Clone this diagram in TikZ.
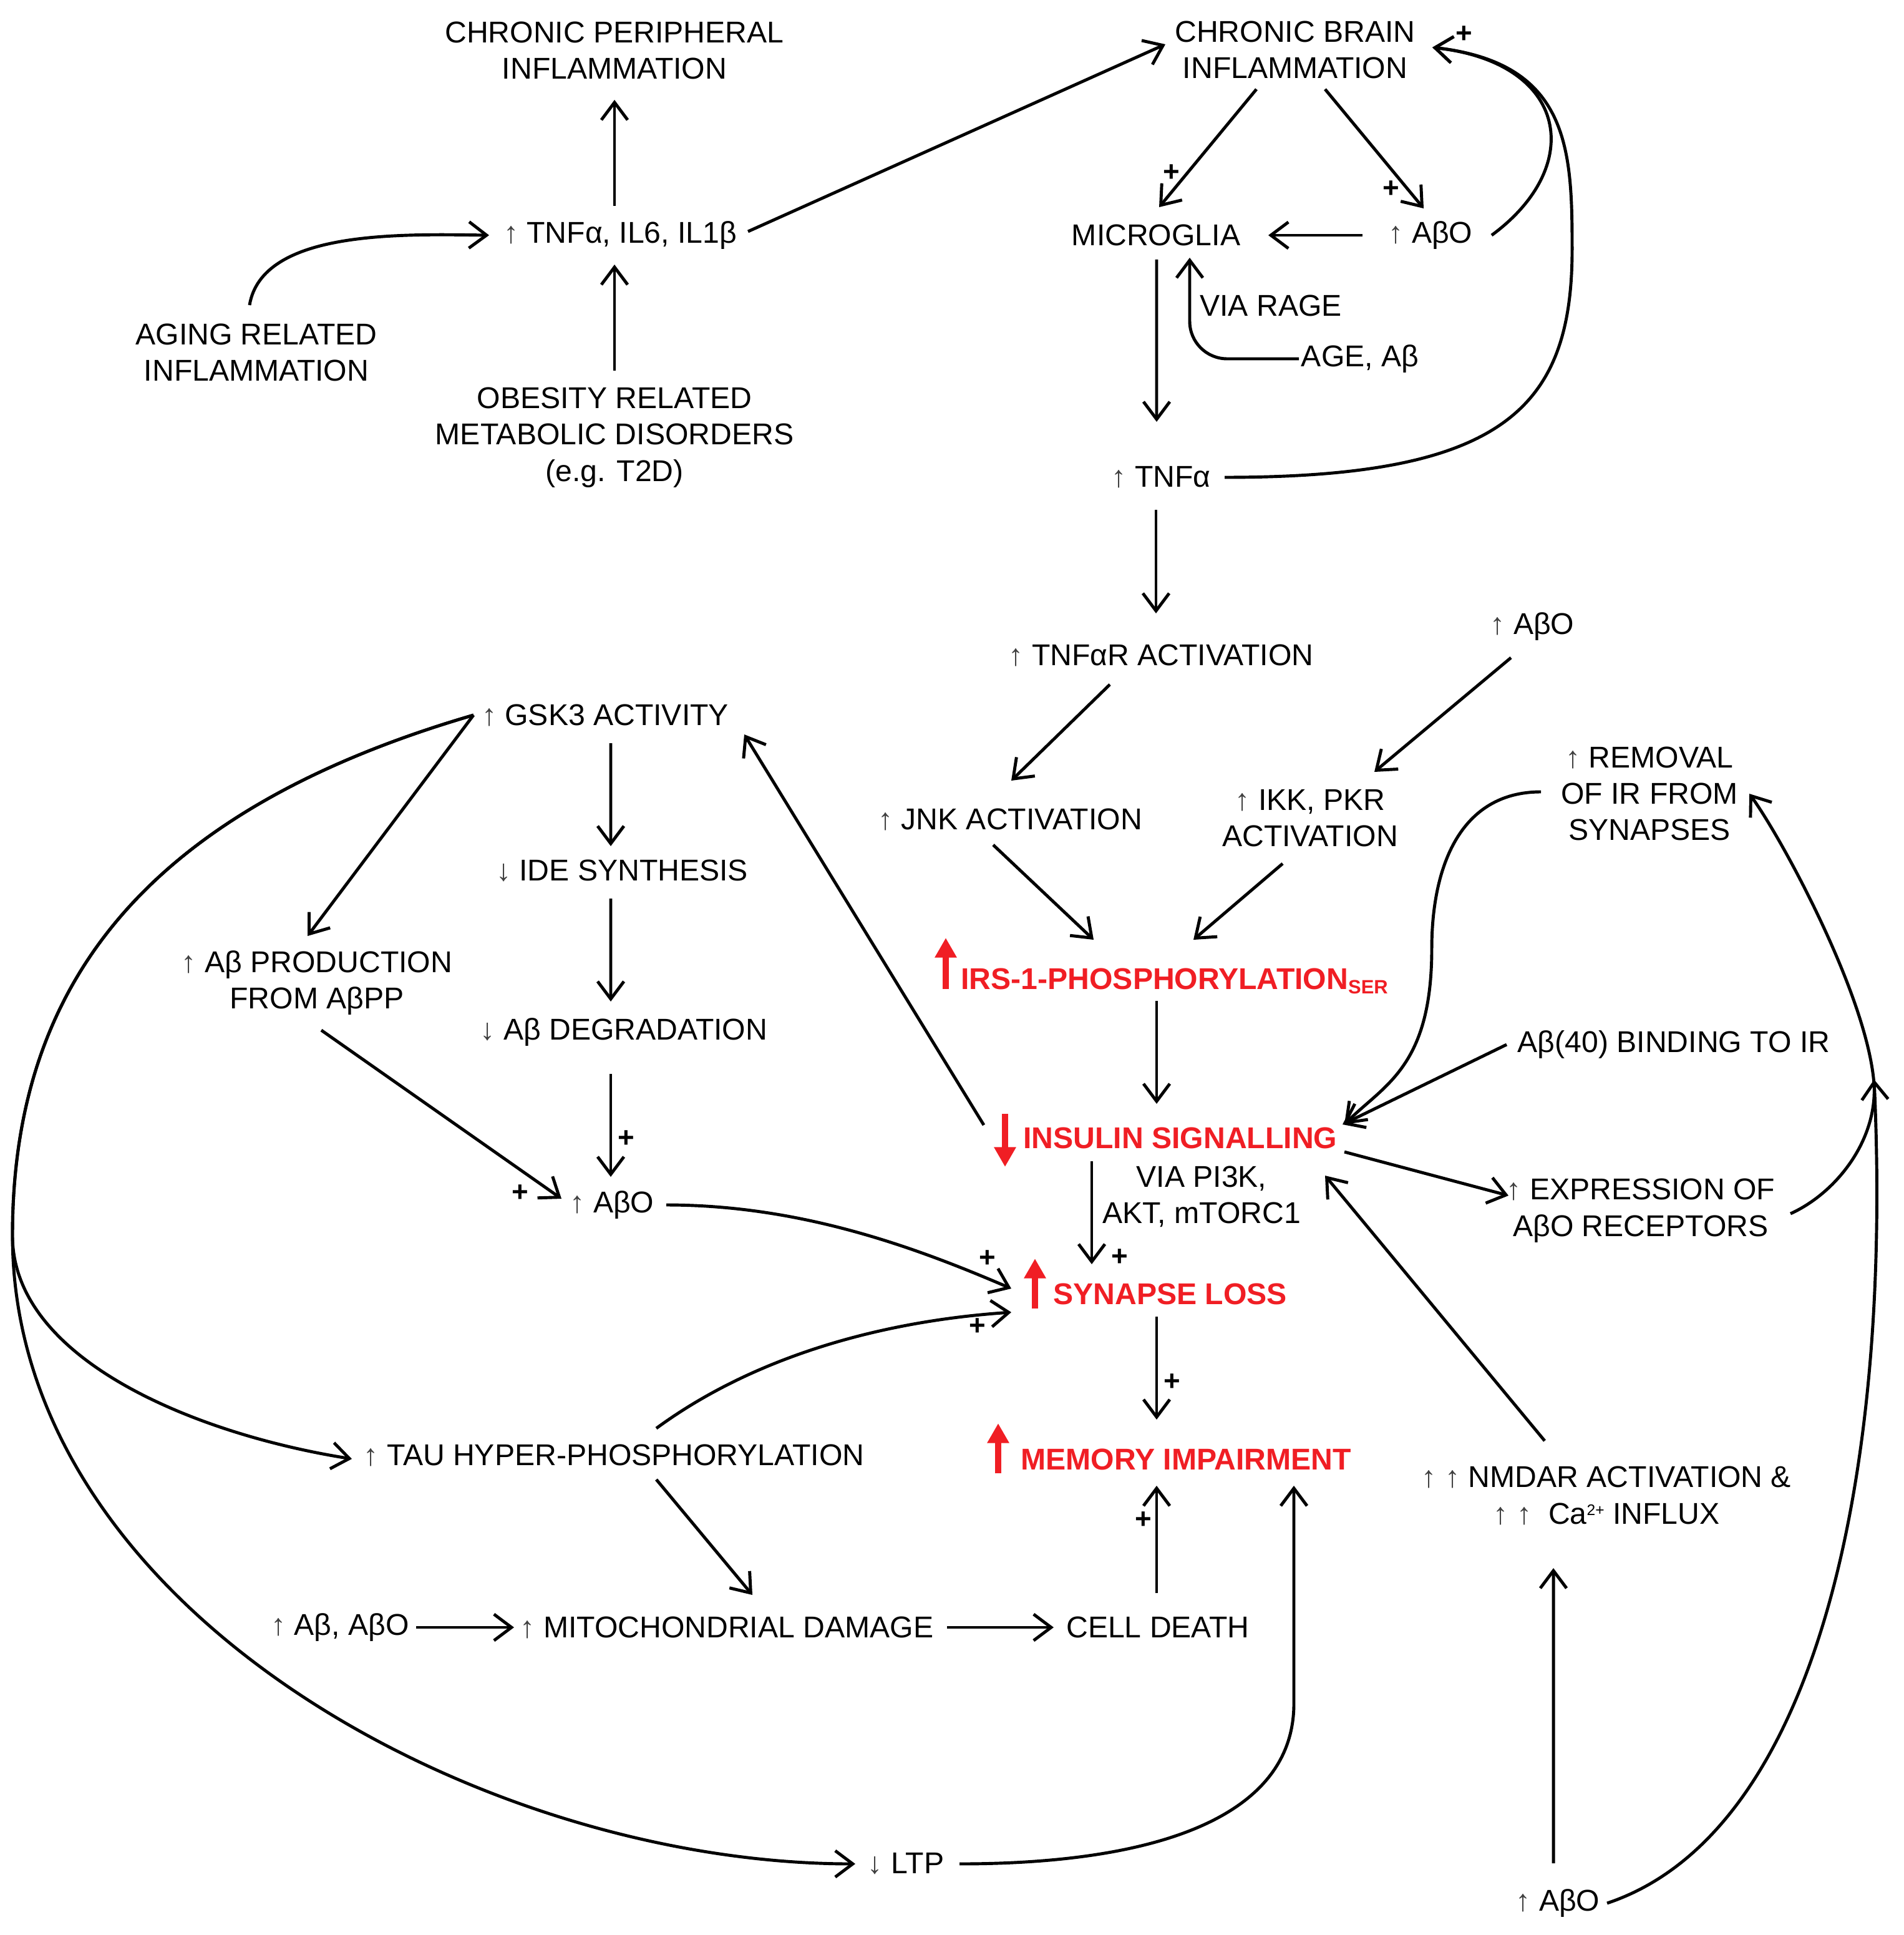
\documentclass[tikz,border=0pt]{standalone}
\usepackage{fontspec}
\setmainfont{Liberation Sans}
\usepackage{graphicx}
\usepackage{tikz}
\usetikzlibrary{arrows.meta}
\definecolor{sigred}{RGB}{240,30,36}
\newcommand{\basefont}{\fontsize{13.7pt}{16.6pt}\selectfont}
\newcommand{\upar}{\textcolor{black!75}{↑}}
\newcommand{\dnar}{\textcolor{black!75}{↓}}
\tikzset{every node/.style={align=center}, >= {Straight Barb[length=8pt,width=12pt]}, font=\basefont}

\begin{document}
\begin{tikzpicture}[line width=1.4pt,
    hot/.style={text=sigred, font=\basefont\bfseries, anchor=base west, inner sep=0pt},
    hotarrow/.style={draw=sigred, line width=2.6pt, -{Triangle[length=9pt,width=9.5pt]}},
    plussign/.style={font=\fontsize{13pt}{13pt}\selectfont\bfseries, inner sep=0pt}]
    \useasboundingbox (0,0) rectangle (30.51,-31.01);
    % peripheral side
    \node (cpi) at (9.85,-0.81) {CHRONIC PERIPHERAL\\INFLAMMATION};
    \node (tnfil) at (9.94,-3.77) {\upar{} TNFα, IL6, IL1β};
    \node (aging) at (4.11,-5.65) {AGING RELATED\\INFLAMMATION};
    \node (obes) at (9.85,-7.01) {OBESITY RELATED\\METABOLIC DISORDERS\\(e.g. T2D)};
    % brain side
    \node (cbi) at (20.76,-0.80) {CHRONIC BRAIN\\INFLAMMATION};
    \node (micro) at (18.53,-3.77) {MICROGLIA};
    \node (abo1) at (22.93,-3.77) {\upar{} AβO};
    \node (rage) at (20.37,-4.90) {VIA RAGE};
    \node (agea) at (21.80,-5.75) {AGE, Aβ};
    \node (tnf) at (18.61,-7.65) {\upar{} TNFα};
    \node (tnfr) at (18.61,-10.50) {\upar{} TNFαR ACTIVATION};
    \node (abo2) at (24.56,-10.04) {\upar{} AβO};
    \node (jnk) at (16.19,-13.13) {\upar{} JNK ACTIVATION};
    \node (ikk) at (21.00,-13.11) {\upar{} IKK, PKR\\ACTIVATION};
    \node (remov) at (26.44,-12.72) {\upar{} REMOVAL\\OF IR FROM\\SYNAPSES};
    \node (gsk) at (9.70,-11.46) {\upar{} GSK3 ACTIVITY};
    \node (ide) at (9.97,-13.95) {\dnar{} IDE SYNTHESIS};
    \node (abprod) at (5.08,-15.75) {\upar{} Aβ PRODUCTION\\FROM AβPP};
    \node (abdeg) at (10.00,-16.54) {\dnar{} Aβ DEGRADATION};
    \node[hot] (irs) at (15.38,-15.85) {IRS-1-PHOSPHORYLATION{\fontsize{8.8pt}{9pt}\selectfont\raisebox{-2pt}{SER}}};
    \node (ab40) at (26.83,-16.74) {Aβ(40) BINDING TO IR};
    \node[hot] (ins) at (16.38,-18.40) {INSULIN SIGNALLING};
    \node (pi3k) at (19.26,-19.18) {VIA PI3K,\\AKT, mTORC1};
    \node (abo3) at (9.81,-19.31) {\upar{} AβO};
    \node (expr) at (26.30,-19.40) {\upar{} EXPRESSION OF\\AβO RECEPTORS};
    \node[hot] (syn) at (16.86,-20.90) {SYNAPSE LOSS};
    \node (tau) at (9.84,-23.32) {\upar{} TAU HYPER-PHOSPHORYLATION};
    \node[hot] (mem) at (16.34,-23.55) {MEMORY IMPAIRMENT};
    \node (nmdar) at (25.75,-23.97) {\upar{} \upar{} NMDAR ACTIVATION \&\\\upar{} \upar{}\ \ Ca\raisebox{0.55ex}{\fontsize{7pt}{7pt}\selectfont 2+} INFLUX};
    \node (abab) at (5.45,-26.08) {\upar{} Aβ, AβO};
    \node (mito) at (11.65,-26.08) {\upar{} MITOCHONDRIAL DAMAGE};
    \node (cell) at (18.56,-26.08) {CELL DEATH};
    \node (ltp) at (14.52,-29.87) {\dnar{} LTP};
    \node (abo4) at (24.97,-30.50) {\upar{} AβO};
    % bends and junctions
    \coordinate (tnfbend) at (25.20,-4.0);
    \coordinate (ltpbend) at (20.74,-27.3);
    \coordinate (split) at (0.20,-19.8);
    \coordinate (remobend) at (22.95,-15.2);
    \coordinate (rjoin) at (30.04,-17.38);
    \coordinate (rtip) at (30.04,-17.30);
    % red markers
    \draw[hotarrow] ([xshift=-0.22cm]irs.base west) -- ++(0,0.82);
    \draw[hotarrow] ([shift={(-0.27,0.55)}]ins.base west) -- ++(0,-0.85);
    \draw[hotarrow] ([shift={(-0.27,-0.07)}]syn.base west) -- ++(0,0.80);
    \draw[hotarrow] ([shift={(-0.34,-0.06)}]mem.base west) -- ++(0,0.80);
    % connectors
    \draw[->] ([shift={(-0.09,0.47)}]tnfil.center) -- ([shift={(0,-0.79)}]cpi.center);
    \draw[->] ([shift={(0,1.07)}]obes.center) -- ([shift={(-0.09,-0.47)}]tnfil.center);
    \draw[->] ([shift={(-0.11,0.76)}]aging.center) .. controls +(0.2,1.2) and +(-1.44,0.02) .. ([shift={(-2.10,0)}]tnfil.center);
    \draw[->] ([shift={(2.05,0.06)}]tnfil.center) -- ([shift={(-2.08,0.09)}]cbi.center);
    \draw[->] ([shift={(-0.62,-0.63)}]cbi.center) -- ([shift={(0.05,0.45)}]micro.center);
    \draw[->] ([shift={(0.48,-0.63)}]cbi.center) -- ([shift={(-0.11,0.43)}]abo1.center);
    \draw[->] ([shift={(-1.09,0)}]abo1.center) -- ([shift={(1.80,0)}]micro.center);
    \draw[->] ([shift={(0.98,0)}]abo1.center) .. controls +(1.5,1.1) and +(2.2,-0.25) .. ([shift={(2.20,0.04)}]cbi.center);
    \draw[->] ([shift={(1.02,0)}]tnf.center) .. controls +(4.43,0) and +(0,-2.57) .. (tnfbend) .. controls +(0,1.6) and +(2.2,-0.25) .. ([shift={(2.20,0.04)}]cbi.center);
    \draw[->, rounded corners=0.6cm] ([shift={(-0.98,0)}]agea.center) -| ([shift={(0.54,-0.36)}]micro.center);
    \draw[->] ([shift={(0.01,-0.39)}]micro.center) -- ([shift={(-0.07,0.89)}]tnf.center);
    \draw[->] ([shift={(-0.08,-0.52)}]tnf.center) -- ([shift={(-0.08,0.67)}]tnfr.center);
    \draw[->] ([shift={(-0.82,-0.47)}]tnfr.center) -- ([shift={(0.02,0.62)}]jnk.center);
    \draw[->] ([shift={(-0.34,-0.50)}]abo2.center) -- ([shift={(1.03,0.74)}]ikk.center);
    \draw[->] ([shift={(-0.27,-0.41)}]jnk.center) -- ([shift={(2.15,0.79)}]irs.base west);
    \draw[->] ([shift={(-0.44,-0.73)}]ikk.center) -- ([shift={(3.75,0.79)}]irs.base west);
    \draw[->] ([shift={(3.16,-0.19)}]irs.base west) -- ([shift={(2.16,0.71)}]ins.base west);
    \draw[->] ([shift={(-0.61,0.37)}]ins.base west) -- ([shift={(2.23,-0.31)}]gsk.center);
    \draw[->] ([shift={(1.12,-0.21)}]ins.base west) -- ([shift={(0.64,0.64)}]syn.base west);
    \draw[->] ([shift={(1.68,-0.20)}]syn.base west) -- ([shift={(2.20,0.80)}]mem.base west);
    \draw[->] ([shift={(-0.02,0.55)}]cell.center) -- ([shift={(2.20,-0.26)}]mem.base west);
    \draw[->] ([shift={(0.86,0)}]ltp.center) .. controls +(3.2,0) and +(0,-1.8) .. (ltpbend) -- ([shift={(4.40,-0.26)}]mem.base west);
    \draw[->] ([shift={(0.68,-0.39)}]tau.center) -- ([shift={(0.41,0.52)}]mito.center);
    \draw[->] ([shift={(1.22,0)}]abab.center) -- ([shift={(-3.41,0)}]mito.center);
    \draw[->] ([shift={(3.53,0)}]mito.center) -- ([shift={(-1.67,0)}]cell.center);
    \draw[->] ([shift={(0.87,0)}]abo3.center) .. controls +(2.2,0) and +(-1.47,0.63) .. ([shift={(-0.65,0.25)}]syn.base west);
    \draw[->] ([shift={(0.68,0.43)}]tau.center) .. controls +(1.5,1.1) and +(-2.2,-0.15) .. ([shift={(-0.65,-0.13)}]syn.base west);
    \draw[->] ([shift={(-2.11,0)}]gsk.center) -- ([shift={(-0.15,0.75)}]abprod.center);
    \draw[->] ([shift={(0.07,-0.76)}]abprod.center) -- ([shift={(-0.81,0.10)}]abo3.center);
    \draw[->] ([shift={(0.09,-0.45)}]gsk.center) -- ([shift={(-0.18,0.39)}]ide.center);
    \draw[->] ([shift={(-0.18,-0.45)}]ide.center) -- ([shift={(-0.21,0.49)}]abdeg.center);
    \draw[->] ([shift={(-0.21,-0.67)}]abdeg.center) -- ([shift={(-0.02,0.45)}]abo3.center);
    \draw[->] ([shift={(-2.11,0)}]gsk.center) .. controls +(-5.28,-1.54) and +(0,4.0) .. (split) .. controls +(0,-2.0) and +(-2.47,0.39) .. ([shift={(-4.20,-0.06)}]tau.center);
    \draw[->] ([shift={(-2.11,0)}]gsk.center) .. controls +(-5.28,-1.54) and +(0,4.0) .. (split) .. controls +(0,-6.0) and +(-6.0,0) .. ([shift={(-0.81,0)}]ltp.center);
    \draw[->] ([shift={(-2.68,0)}]ab40.center) -- ([shift={(5.14,0.38)}]ins.base west);
    \draw[->] ([shift={(-1.74,0.03)}]remov.center) .. controls +(-1.3,0) and +(0,1.3) .. (remobend) .. controls +(0,-1.9) and +(0.64,0.64) .. ([shift={(5.17,0.38)}]ins.base west);
    \draw[->] ([shift={(5.17,-0.06)}]ins.base west) -- ([shift={(-2.12,0.24)}]expr.center);
    \draw[->] ([shift={(-0.99,0.88)}]nmdar.center) -- ([shift={(4.86,-0.44)}]ins.base west);
    \draw[->] ([shift={(-0.07,0.64)}]abo4.center) -- ([shift={(-0.85,-1.16)}]nmdar.center);
    \draw[->] ([shift={(2.40,-0.05)}]expr.center) .. controls +(0.73,0.33) and +(0.05,-0.9) .. (rjoin) .. controls +(-0.1,1.4) and +(0.53,-0.73) .. ([shift={(1.60,0)}]remov.center);
    \draw[->] ([shift={(0.79,0)}]abo4.center) .. controls +(3.3,1.1) and +(0.3,-6.5) .. (rtip);
    % plus signs
    \node[plussign] (p1) at (18.78,-2.77) {+};
    \node[plussign] (p2) at (22.30,-3.03) {+};
    \node[plussign] (p3) at (23.47,-0.55) {+};
    \node[plussign] (p4) at (10.04,-18.25) {+};
    \node[plussign] (p5) at (8.34,-19.12) {+};
    \node[plussign] (p6) at (15.83,-20.17) {+};
    \node[plussign] (p7) at (15.67,-21.26) {+};
    \node[plussign] (p8) at (17.95,-20.15) {+};
    \node[plussign] (p9) at (18.79,-22.15) {+};
    \node[plussign] (p10) at (18.33,-24.36) {+};
\end{tikzpicture}
\end{document}
